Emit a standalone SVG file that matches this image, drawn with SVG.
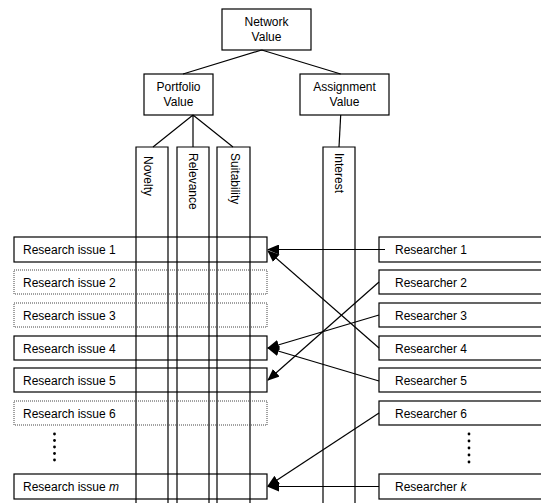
<svg xmlns="http://www.w3.org/2000/svg" width="541" height="503" viewBox="0 0 541 503">
<style>
text{font-family:"Liberation Sans",Arial,sans-serif;font-size:12px;fill:#000}
.b{fill:none;stroke:#000;stroke-width:1.2}
.d{fill:none;stroke:#444;stroke-width:1;stroke-dasharray:1,1}
.c{fill:none;stroke:#000;stroke-width:1.2}
.l{stroke:#000;stroke-width:1.2;fill:none}
.a{stroke:#000;stroke-width:1.2;fill:none;marker-end:url(#ah)}
.ctr{text-anchor:middle}
</style>
<defs>
<marker id="ah" markerUnits="userSpaceOnUse" markerWidth="12" markerHeight="10" refX="11" refY="5" orient="auto">
<path d="M0,0 L12,5 L0,10 Z" fill="#000"/>
</marker>
</defs>
<rect width="541" height="503" fill="#fff"/>
<g id="network-value"><rect class="b" x="222" y="9" width="89" height="41"/><text class="ctr" x="266.5" y="26">Network</text><text class="ctr" x="266.5" y="41">Value</text></g>
<g id="portfolio-value"><rect class="b" x="144" y="74" width="69" height="41"/><text class="ctr" x="178.5" y="91">Portfolio</text><text class="ctr" x="178.5" y="106">Value</text></g>
<g id="assignment-value"><rect class="b" x="300" y="74" width="89" height="41"/><text class="ctr" x="344.5" y="91">Assignment</text><text class="ctr" x="344.5" y="106">Value</text></g>
<g id="novelty"><path class="c" d="M136,510 V147 H168 V510"/><text transform="translate(144,156) rotate(90)">Novelty</text></g>
<g id="relevance"><path class="c" d="M177,510 V147 H209 V510"/><text transform="translate(188.5,153) rotate(90)">Relevance</text></g>
<g id="suitability"><path class="c" d="M217,510 V147 H250 V510"/><text transform="translate(230.5,153) rotate(90)">Suitability</text></g>
<g id="interest"><path class="c" d="M323,510 V147 H355 V510"/><text transform="translate(335,153) rotate(90)">Interest</text></g>
<g id="ri1"><rect class="b" x="14" y="237" width="253" height="25"/><text x="23" y="254">Research issue 1</text></g>
<g id="ri2"><rect class="d" x="14" y="270" width="253" height="24"/><text x="23" y="287">Research issue 2</text></g>
<g id="ri3"><rect class="d" x="14" y="303" width="253" height="24"/><text x="23" y="320">Research issue 3</text></g>
<g id="ri4"><rect class="b" x="14" y="336" width="253" height="24"/><text x="23" y="353">Research issue 4</text></g>
<g id="ri5"><rect class="b" x="14" y="368" width="253" height="24"/><text x="23" y="385">Research issue 5</text></g>
<g id="ri6"><rect class="d" x="14" y="401" width="253" height="24"/><text x="23" y="418">Research issue 6</text></g>
<g id="rim"><rect class="b" x="14" y="474" width="253" height="25"/><text x="23" y="491">Research issue <tspan font-style="italic">m</tspan></text></g>
<g id="dots-left" fill="#000"><circle cx="54.5" cy="434" r="1.4"/><circle cx="54.5" cy="440.5" r="1.4"/><circle cx="54.5" cy="447" r="1.4"/><circle cx="54.5" cy="453.5" r="1.4"/><circle cx="54.5" cy="460" r="1.4"/></g>
<g id="r1"><rect class="b" x="379" y="237" width="170" height="25"/><text x="395" y="254">Researcher 1</text></g>
<g id="r2"><rect class="b" x="379" y="270" width="170" height="24"/><text x="395" y="287">Researcher 2</text></g>
<g id="r3"><rect class="b" x="379" y="303" width="170" height="24"/><text x="395" y="320">Researcher 3</text></g>
<g id="r4"><rect class="b" x="379" y="336" width="170" height="24"/><text x="395" y="353">Researcher 4</text></g>
<g id="r5"><rect class="b" x="379" y="368" width="170" height="24"/><text x="395" y="385">Researcher 5</text></g>
<g id="r6"><rect class="b" x="379" y="401" width="170" height="24"/><text x="395" y="418">Researcher 6</text></g>
<g id="rk"><rect class="b" x="379" y="474" width="170" height="25"/><text x="395" y="491">Researcher <tspan font-style="italic">k</tspan></text></g>
<g id="dots-right" fill="#000"><circle cx="469" cy="434" r="1.4"/><circle cx="469" cy="441" r="1.4"/><circle cx="469" cy="448" r="1.4"/><circle cx="469" cy="455" r="1.4"/><circle cx="469" cy="462" r="1.4"/></g>
<g id="connectors">
<path class="l" d="M261.7,50 L183,74 M261.7,50 L340.7,74"/>
<path class="l" d="M193,115 L153,147 M193,115 L193,147 M193,115 L233,147"/>
<path class="l" d="M340.7,115 L339,147"/>
<path class="a" d="M385,249.5 L268,249.5"/>
<path class="a" d="M379,282 L268,380"/>
<path class="a" d="M379,315 L268,348"/>
<path class="a" d="M379,348 L268,251"/>
<path class="a" d="M379,381 L268,348"/>
<path class="a" d="M379,413 L268,486"/>
<path class="a" d="M379,486.5 L268,486.5"/>
</g>
</svg>
